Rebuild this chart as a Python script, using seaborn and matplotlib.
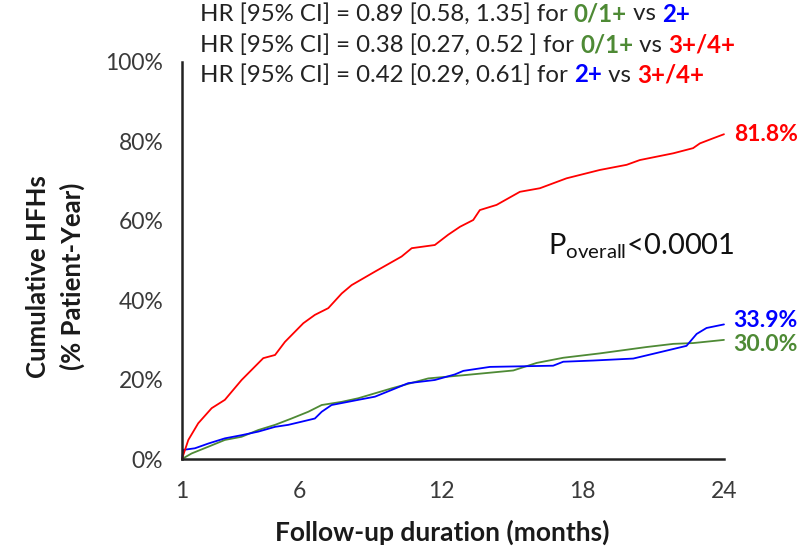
import matplotlib
matplotlib.use("Agg")
import matplotlib.pyplot as plt
import seaborn as sns
import pandas as pd

# ---- data ----
red_m = [1, 1.27, 1.69, 2.26, 2.82, 3.53, 4.45, 4.95, 5.37, 6.15, 6.64, 7.21, 7.78, 8.2, 9.19,
         10.32, 10.75, 11.73, 12.3, 12.8, 13.36, 13.64, 14.35, 15.34, 16.19, 17.32, 18.73,
         19.87, 20.43, 21.85, 22.69, 22.98, 23.55, 24]
red_y = [0, 4.8, 9, 12.8, 14.9, 19.9, 25.4, 26.2, 29.5, 34.2, 36.3, 38, 41.7, 43.8, 47.2,
         51, 53.1, 53.9, 56.5, 58.5, 60.2, 62.7, 64, 67.3, 68.2, 70.7, 72.8,
         74.1, 75.3, 77, 78.3, 79.5, 80.8, 81.8]
blue_m = [1, 1.06, 1.55, 2.12, 2.82, 3.53, 4.24, 4.95, 5.51, 6.08, 6.64, 6.93, 7.35, 8.48,
          9.19, 9.9, 10.6, 11.73, 12.58, 12.94, 14.07, 16.75, 17.18, 18.45, 20.15, 21,
          22.41, 22.84, 23.26, 24]
blue_y = [0, 2.3, 2.7, 3.9, 5.2, 6, 6.9, 8.1, 8.6, 9.4, 10.2, 11.9, 13.6, 14.9,
          15.7, 17.4, 19.1, 19.9, 21.3, 22.2, 23.2, 23.5, 24.5, 24.8, 25.3, 26.5,
          28.5, 31.5, 33, 33.9]
green_m = [1, 1.41, 2.12, 2.82, 3.53, 4.24, 4.95, 5.65, 6.36, 6.93, 7.78, 8.48, 9.9, 11.45,
           12.94, 15.06, 16.05, 17.18, 18.73, 20.71, 21.85, 22.69, 24]
green_y = [0, 1.4, 3.1, 4.8, 5.6, 7.3, 8.6, 10.2, 11.9, 13.6, 14.4, 15.3, 17.8, 20.3,
           21.1, 22.3, 24.2, 25.5, 26.6, 28.2, 29, 29.2, 30.0]

groups = ["3+/4+", "2+", "0/1+"]
end_labels = ["81.8%", "33.9%", "30.0%"]
x_ticks = [1, 6, 12, 18, 24]
y_ticks = [0, 20, 40, 60, 80, 100]

RED, BLUE, GREEN = "#ff0000", "#0000ff", "#4e8a35"
DARK = "#222222"
palette = {"3+/4+": RED, "2+": BLUE, "0/1+": GREEN}

df = pd.concat([
    pd.DataFrame({"month": red_m, "pct": red_y, "group": "3+/4+"}),
    pd.DataFrame({"month": blue_m, "pct": blue_y, "group": "2+"}),
    pd.DataFrame({"month": green_m, "pct": green_y, "group": "0/1+"}),
], ignore_index=True)

sns.set_theme(style="white")
plt.rcParams["font.family"] = ["Lato", "DejaVu Sans"]
plt.rcParams["mathtext.fontset"] = "custom"
plt.rcParams["mathtext.rm"] = "Lato"

fig = plt.figure(figsize=(8.08, 5.48), dpi=100)
ax = fig.add_axes([0.2252, 0.1624, 0.896 - 0.2252, 0.8869 - 0.1624])

sns.lineplot(data=df, x="month", y="pct", hue="group", palette=palette,
             hue_order=["0/1+", "2+", "3+/4+"], linewidth=1.3, legend=False,
             ax=ax, estimator=None, sort=True)

ax.set_xlim(1, 24)
ax.set_ylim(0, 100)
ax.set_xticks(x_ticks)
ax.set_xticklabels([str(t) for t in x_ticks])
ax.set_yticks(y_ticks)
ax.set_yticklabels([f"{t}%" for t in y_ticks])
for s in ["top", "right"]:
    ax.spines[s].set_visible(False)
for s in ["left", "bottom"]:
    ax.spines[s].set_color(DARK)
    ax.spines[s].set_linewidth(1.8)
ax.tick_params(axis="both", direction="inout", length=9, width=1.6, color=DARK,
               labelsize=16.5, labelcolor="#3a3a3a")
ax.tick_params(axis="y", pad=9)
ax.tick_params(axis="x", pad=11)
for ln in ax.lines:
    ln.set_clip_on(False)

ax.set_xlabel("Follow-up duration (months)", fontsize=19, fontweight="bold",
              color="#1a1a1a")
ax.xaxis.set_label_coords(0.48, -0.152)
ax.set_ylabel("Cumulative HFHs\n(% Patient-Year)", fontsize=18.5, fontweight="bold",
              color="#1a1a1a", linespacing=1.45)
ax.yaxis.set_label_coords(-0.179, 0.46)

# end labels
ends = [(24, red_y[-1], end_labels[0], RED, 0),
        (24, blue_y[-1], end_labels[1], BLUE, 3),
        (24, green_y[-1], end_labels[2], GREEN, -3)]
for x, y, lab, c, dy in ends:
    ax.annotate(lab, xy=(x, y), xytext=(7, dy), textcoords="offset points",
                color=c, fontsize=16.5, fontweight="bold", va="center", ha="left",
                annotation_clip=False)

# P overall
ax.text(16.55, 53.5, r"$\mathregular{P_{overall}}$<0.0001", fontsize=21, color="#111111",
        va="center", ha="left")

# HR lines with coloured segments (coloured group names in bold)
lines = [
    [("HR [95% CI] = 0.89 [0.58, 1.35] for ", DARK, "normal"), ("0/1+", GREEN, "bold"),
     (" vs ", DARK, "normal"), ("2+", BLUE, "bold")],
    [("HR [95% CI] = 0.38 [0.27, 0.52 ] for ", DARK, "normal"), ("0/1+", GREEN, "bold"),
     (" vs ", DARK, "normal"), ("3+/4+", RED, "bold")],
    [("HR [95% CI] = 0.42 [0.29, 0.61] for ", DARK, "normal"), ("2+", BLUE, "bold"),
     (" vs ", DARK, "normal"), ("3+/4+", RED, "bold")],
]
y_px = [14, 45, 75]
for segs, yp in zip(lines, y_px):
    prev = None
    for txt, col, wt in segs:
        if prev is None:
            prev = fig.text(200 / 808, 1 - yp / 548, txt, color=col, fontsize=17.3,
                            fontweight=wt, va="center", ha="left")
        else:
            prev = ax.annotate(txt, xy=(1, 0.5), xycoords=prev, color=col, fontsize=17.3,
                               fontweight=wt, va="center", ha="left", annotation_clip=False)

fig.savefig("out.png", dpi=100)
